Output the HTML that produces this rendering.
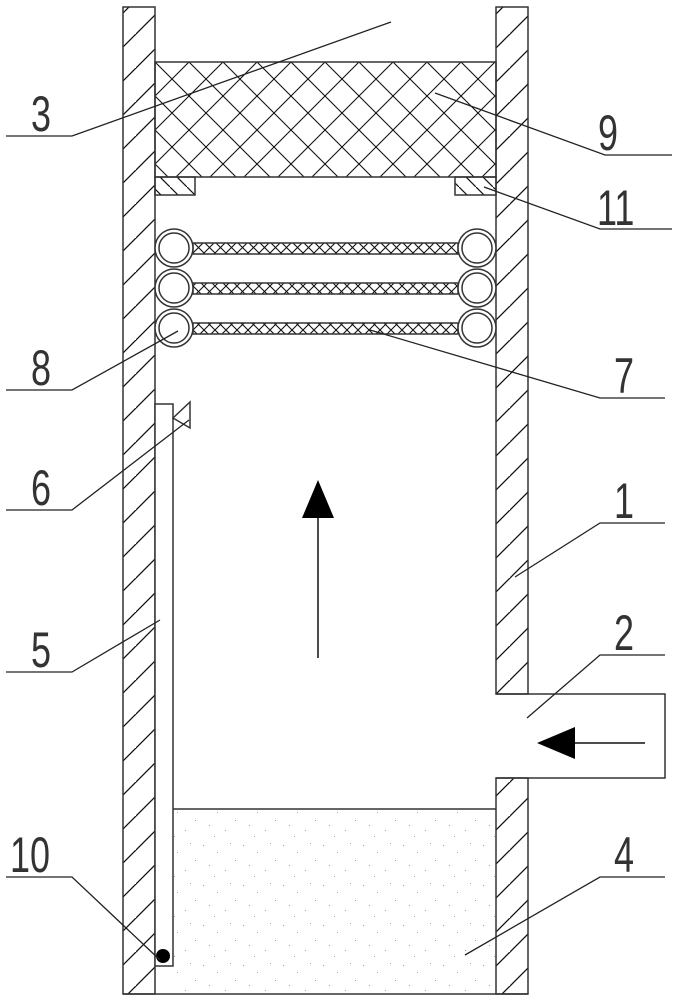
<!DOCTYPE html>
<html><head><meta charset="utf-8"><style>
html,body{margin:0;padding:0;background:#fff;width:673px;height:1000px;overflow:hidden}
text{font-family:"Liberation Sans",sans-serif;font-size:50px;fill:#333}
</style></head><body>
<svg width="673" height="1000" viewBox="0 0 673 1000" xmlns="http://www.w3.org/2000/svg">
<defs>
<pattern id="hatch" width="34" height="34" patternUnits="userSpaceOnUse">
<path d="M-2,36 L36,-2 M-36,36 L2,-2 M32,70 L70,32" stroke="#111" stroke-width="1.3" fill="none"/>
</pattern>
<pattern id="hatch2" width="17" height="17" patternUnits="userSpaceOnUse" patternTransform="rotate(90)">
<path d="M0,17 L17,0" stroke="#111" stroke-width="1.2"/>
</pattern>
<pattern id="cross" width="34" height="34" patternUnits="userSpaceOnUse" x="155" y="62">
<path d="M0,0 L34,34 M34,0 L0,34" stroke="#111" stroke-width="1.1" fill="none"/>
</pattern>
<pattern id="xs" width="22" height="11" patternUnits="userSpaceOnUse" x="193">
<path d="M0,0 L11,11 L22,0 M0,11 L11,0 L22,11" stroke="#111" stroke-width="1.1" fill="none"/>
</pattern>
<pattern id="sand" width="40" height="40" patternUnits="userSpaceOnUse">
<g fill="#999"><rect x="3" y="5" width="1" height="1"/><rect x="17" y="12" width="1" height="1"/><rect x="30" y="3" width="1" height="1"/><rect x="9" y="25" width="1" height="1"/><rect x="25" y="30" width="1" height="1"/><rect x="35" y="20" width="1" height="1"/><rect x="14" y="36" width="1" height="1"/></g>
</pattern>
</defs>
<g stroke="#333" stroke-width="1.5">
<rect x="123" y="7" width="32" height="987" fill="url(#hatch)"/>
<rect x="496" y="7" width="32" height="687" fill="url(#hatch)"/>
<rect x="496" y="778" width="32" height="216" fill="url(#hatch)"/>
<line x1="123" y1="994" x2="528" y2="994"/>
<rect x="155" y="62" width="341" height="115" fill="url(#cross)"/>
<rect x="155" y="177" width="40" height="18" fill="url(#hatch2)"/>
<rect x="455" y="177" width="41" height="18" fill="url(#hatch2)"/>
<rect x="193" y="243" width="265" height="11" fill="url(#xs)"/>
<rect x="193" y="283" width="265" height="11" fill="url(#xs)"/>
<rect x="193" y="323" width="265" height="11" fill="url(#xs)"/>
<g fill="#fff">
<circle cx="174" cy="248" r="19"/><circle cx="174" cy="248" r="15"/>
<circle cx="174" cy="288" r="19"/><circle cx="174" cy="288" r="15"/>
<circle cx="174" cy="328" r="19"/><circle cx="174" cy="328" r="15"/>
<circle cx="477" cy="248" r="19"/><circle cx="477" cy="248" r="15"/>
<circle cx="477" cy="288" r="19"/><circle cx="477" cy="288" r="15"/>
<circle cx="477" cy="328" r="19"/><circle cx="477" cy="328" r="15"/>
</g>
<rect x="172" y="809" width="324" height="185" fill="url(#sand)" stroke="none"/>
<line x1="172" y1="809" x2="496" y2="809"/>
<rect x="155" y="404" width="18" height="562" fill="#fff"/>
<polygon points="173,418 190,402 190,428" fill="#fff"/>
<path d="M496,694 L665,694 L665,778 L496,778" fill="none"/>
</g>
<circle cx="163" cy="956" r="7" fill="#000"/>
<g stroke="#111" stroke-width="1.5">
<line x1="318" y1="658" x2="318" y2="515"/>
<line x1="645" y1="743" x2="572" y2="743"/>
</g>
<polygon points="302,518 334,518 318,480" fill="#000"/>
<polygon points="575,727 575,759 537,743" fill="#000"/>
<g stroke="#222" stroke-width="1.3" fill="none">
<path d="M6,136 L72,136 L391,22"/>
<path d="M672,155 L605,155 L435,93"/>
<path d="M672,229 L600,229 L484,187"/>
<path d="M6,390 L72,390 L178,331"/>
<path d="M665,398 L600,398 L370,330"/>
<path d="M6,510 L72,510 L189,420"/>
<path d="M665,523 L600,523 L515,577"/>
<path d="M6,672 L72,672 L160,620"/>
<path d="M665,655 L600,655 L527,718"/>
<path d="M6,877 L72,877 L160,960"/>
<path d="M665,877 L600,877 L465,955"/>
</g>
<g>
<text transform="translate(31,131) scale(0.72,1)">3</text>
<text transform="translate(598,150) scale(0.72,1)">9</text>
<text transform="translate(597,225) scale(0.72,1)">11</text>
<text transform="translate(31,385) scale(0.72,1)">8</text>
<text transform="translate(614,393) scale(0.72,1)">7</text>
<text transform="translate(31,505) scale(0.72,1)">6</text>
<text transform="translate(614,518) scale(0.72,1)">1</text>
<text transform="translate(31,667) scale(0.72,1)">5</text>
<text transform="translate(614,650) scale(0.72,1)">2</text>
<text transform="translate(10,872) scale(0.72,1)">10</text>
<text transform="translate(614,872) scale(0.72,1)">4</text>
</g>
</svg>
</body></html>
